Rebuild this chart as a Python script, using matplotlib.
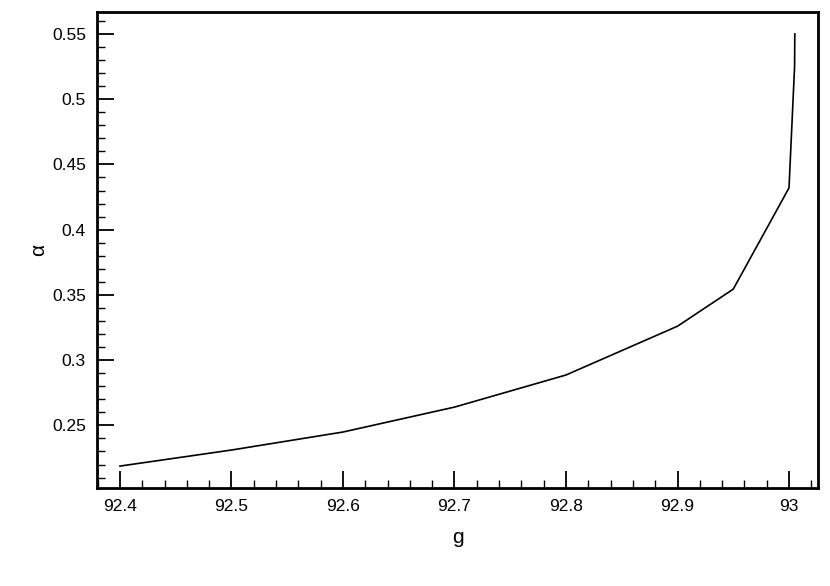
import numpy as np
import matplotlib
matplotlib.use("Agg")
import matplotlib.pyplot as plt
from matplotlib.ticker import MultipleLocator

plt.rcParams['font.family'] = ['Liberation Sans', 'DejaVu Sans']

g = [92.4, 92.5, 92.6, 92.7, 92.8, 92.9, 92.95, 93.0, 93.005, 93.0052]
alpha = [0.2188, 0.2311, 0.2449, 0.264, 0.2886, 0.326, 0.3544, 0.432, 0.525, 0.55]

fig = plt.figure(figsize=(8.3, 5.86), dpi=100)
ax = fig.add_axes([97/830, 1 - 488/586, (818-97)/830, (488-12)/586])

ax.plot(g, alpha, color='black', lw=1.2)

ax.set_xlim(92.3794, 93.026)
ax.set_ylim(0.2020, 0.5668)

ax.xaxis.set_minor_locator(MultipleLocator(0.02))
ax.yaxis.set_minor_locator(MultipleLocator(0.01))
ax.set_xticks(np.arange(92.4, 93.05, 0.1))
ax.set_xticklabels(['92.4', '92.5', '92.6', '92.7', '92.8', '92.9', '93'])
ax.set_yticks([0.25, 0.3, 0.35, 0.4, 0.45, 0.5, 0.55])
ax.set_yticklabels(['0.25', '0.3', '0.35', '0.4', '0.45', '0.5', '0.55'])

ax.tick_params(which='both', direction='in', top=False, right=False, labelsize=12.5, width=1.3)
ax.tick_params(which='major', length=12, pad=8)
ax.tick_params(which='minor', length=6, width=1)
for s in ax.spines.values():
    s.set_linewidth(2)

ax.set_xlabel('g', fontsize=15, labelpad=10)
ax.set_ylabel('α', fontsize=15, labelpad=3)

fig.savefig('out.png', dpi=100)
